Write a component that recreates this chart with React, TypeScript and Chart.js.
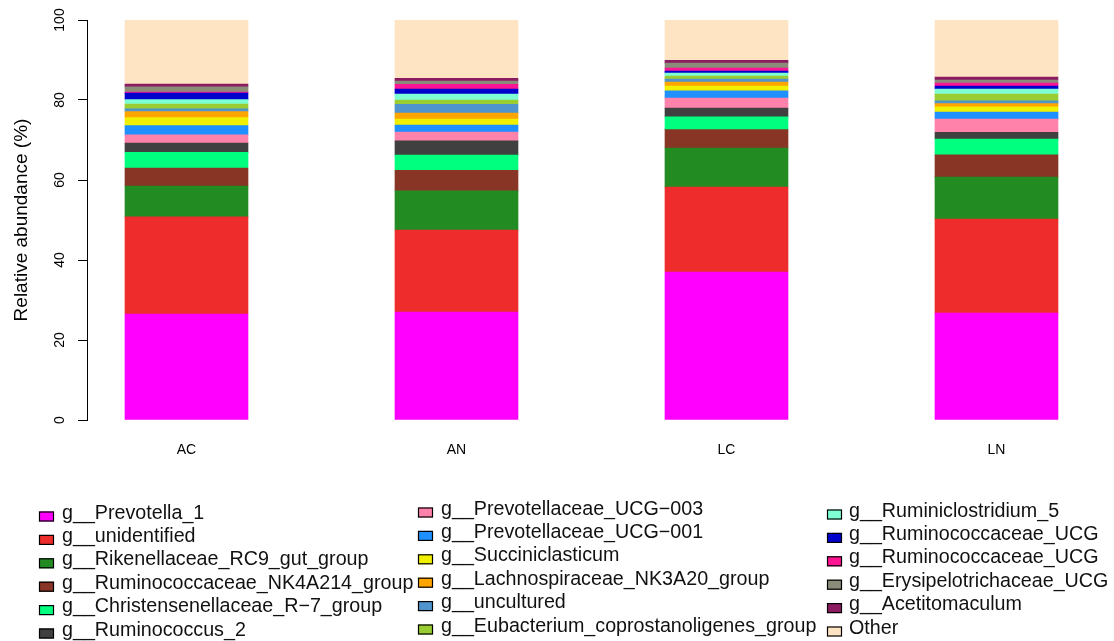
import React, { useEffect, useRef } from "react";
import { Chart, registerables } from "chart.js";

Chart.register(...registerables);

// ---------- data ----------
const samples = ["AC", "AN", "LC", "LN"];

const genera = [
  "g__Prevotella_1",
  "g__unidentified",
  "g__Rikenellaceae_RC9_gut_group",
  "g__Ruminococcaceae_NK4A214_group",
  "g__Christensenellaceae_R\u22127_group",
  "g__Ruminococcus_2",
  "g__Prevotellaceae_UCG\u2212003",
  "g__Prevotellaceae_UCG\u2212001",
  "g__Succiniclasticum",
  "g__Lachnospiraceae_NK3A20_group",
  "g__uncultured",
  "g__Eubacterium_coprostanoligenes_group",
  "g__Ruminiclostridium_5",
  "g__Ruminococcaceae_UCG",
  "g__Ruminococcaceae_UCG",
  "g__Erysipelotrichaceae_UCG",
  "g__Acetitomaculum",
  "Other",
];

const colors = [
  "#FF00FF",
  "#EE2C2C",
  "#228B22",
  "#883526",
  "#00FF7F",
  "#404040",
  "#FF82AB",
  "#1E90FF",
  "#F0F000",
  "#FFA500",
  "#4F94CD",
  "#9ACD32",
  "#7FFFD4",
  "#0000CD",
  "#FF1493",
  "#8B8B7A",
  "#8B1C62",
  "#FFE4C4",
];

const prevotella1 = [26.5, 27.0, 37.0, 26.7];
const unidentified = [24.3, 20.5, 21.2, 23.5];
const rikenellaceae = [7.7, 9.8, 9.8, 10.5];
const ruminoNK4A214 = [4.5, 5.1, 4.6, 5.6];
const christensenellaceae = [3.9, 3.8, 3.2, 3.9];
const ruminococcus2 = [2.3, 3.6, 2.2, 1.7];
const prevotellaceaeUCG003 = [2.1, 2.2, 2.5, 3.3];
const prevotellaceaeUCG001 = [2.3, 1.7, 1.8, 1.8];
const succiniclasticum = [2.0, 1.5, 1.2, 1.3];
const lachnospiraceae = [1.5, 1.5, 1.0, 0.8];
const uncultured = [0.7, 2.2, 0.7, 0.7];
const eubacterium = [1.2, 1.1, 0.8, 1.7];
const ruminiclostridium5 = [1.1, 1.5, 0.7, 1.2];
const ruminococcaceaeUCGa = [1.6, 1.2, 0.5, 0.8];
const ruminococcaceaeUCGb = [0.3, 1.2, 0.8, 0.7];
const erysipelotrichaceae = [1.3, 0.8, 1.2, 0.8];
const acetitomaculum = [0.7, 0.7, 0.7, 0.7];
const other = [16.0, 14.6, 10.0, 14.3];

const seriesValues = [
  prevotella1,
  unidentified,
  rikenellaceae,
  ruminoNK4A214,
  christensenellaceae,
  ruminococcus2,
  prevotellaceaeUCG003,
  prevotellaceaeUCG001,
  succiniclasticum,
  lachnospiraceae,
  uncultured,
  eubacterium,
  ruminiclostridium5,
  ruminococcaceaeUCGa,
  ruminococcaceaeUCGb,
  erysipelotrichaceae,
  acetitomaculum,
  other,
];

const yTicks = [0, 20, 40, 60, 80, 100];

// ---------- legend layout (3 columns x 6 rows, column-major) ----------
const legendBoxX = [39, 418, 827];
const legendTextX = [62, 441, 849];
const legendBaseline = [518.5, 514.5, 516.5];
const legendStep = 23.4;
const FONT = '"Liberation Sans", Arial, Helvetica, sans-serif';

const gridLegend = {
  id: "gridLegend",
  afterDraw(chart: any) {
    const ctx = chart.ctx as CanvasRenderingContext2D;
    const ds = chart.data.datasets;
    ctx.save();
    ctx.font = `19.7px ${FONT}`;
    ctx.textBaseline = "alphabetic";
    ctx.textAlign = "left";
    ds.forEach((d: any, i: number) => {
      const col = Math.floor(i / 6);
      const row = i % 6;
      const base = legendBaseline[col] + row * legendStep;
      const bx = legendBoxX[col];
      ctx.fillStyle = d.backgroundColor;
      ctx.fillRect(bx, base - 7, 15, 10);
      ctx.strokeStyle = "#000";
      ctx.lineWidth = 1.2;
      ctx.strokeRect(bx + 0.5, base - 6.5, 14, 9);
      ctx.fillStyle = "#111";
      ctx.fillText(d.label, legendTextX[col], base);
    });
    ctx.restore();
  },
};

export default function App() {
  const ref = useRef<HTMLCanvasElement | null>(null);

  useEffect(() => {
    document.body.style.margin = "0";
    if (!ref.current) return;
    const datasets = genera.map((g, k) => ({
      label: g,
      data: seriesValues[k].map((v, i) => ({ x: i, y: v })),
      backgroundColor: colors[k],
      borderWidth: 0,
      barThickness: 123,
    }));
    const chart = new Chart(ref.current, {
      type: "bar",
      data: { datasets },
      plugins: [gridLegend],
      options: {
        responsive: false,
        animation: false,
        devicePixelRatio: 1,
        layout: { padding: { left: 0, top: 20, right: 4, bottom: 181 } },
        plugins: { legend: { display: false }, tooltip: { enabled: false } },
        scales: {
          x: {
            type: "linear",
            stacked: true,
            offset: false,
            bounds: "data",
            min: -0.3685,
            max: 3.4204,
            grid: { display: false, drawTicks: false, offset: false },
            border: { display: false },
            afterBuildTicks: (scale: any) => {
              scale.ticks = samples.map((_, i) => ({ value: i }));
            },
            afterFit: (scale: any) => {
              scale.height = 40;
            },
            ticks: {
              padding: 22,
              color: "#000",
              font: { family: FONT, size: 14 },
              maxRotation: 0,
              minRotation: 0,
              autoSkip: false,
              callback: (v: any) => samples[v as number] ?? "",
            },
          },
          y: {
            stacked: true,
            min: 0,
            max: 100,
            afterBuildTicks: (scale: any) => {
              scale.ticks = yTicks.map((v) => ({ value: v }));
            },
            afterFit: (scale: any) => {
              scale.width = 87;
            },
            grid: {
              drawOnChartArea: false,
              drawTicks: true,
              tickLength: 9,
              color: "#000",
              lineWidth: 1,
            },
            border: { display: true, color: "#000", width: 1 },
            title: {
              display: true,
              text: "Relative abundance (%)",
              color: "#000",
              font: { family: FONT, size: 19 },
              padding: { top: 10, bottom: 0 },
            },
            ticks: {
              color: "#000",
              font: { family: FONT, size: 14 },
              minRotation: 90,
              maxRotation: 90,
              crossAlign: "center",
              padding: 6,
            },
          },
        },
      },
    });
    return () => chart.destroy();
  }, []);

  return <canvas ref={ref} width={1114} height={641} style={{ display: "block" }} />;
}
